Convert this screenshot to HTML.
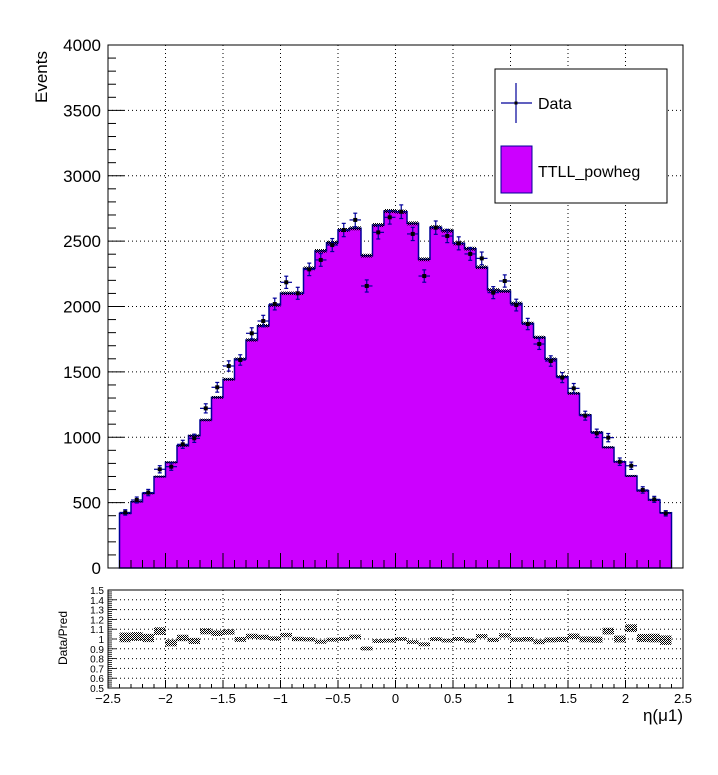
<!DOCTYPE html>
<html><head><meta charset="utf-8">
<style>
body{margin:0;background:#fff;}
svg{display:block;font-family:"Liberation Sans",Arial,sans-serif;}
</style></head>
<body>
<svg id="chart" width="718" height="775" viewBox="0 0 718 775" xmlns="http://www.w3.org/2000/svg">
<defs>
<pattern id="hatch" width="2" height="2" patternUnits="userSpaceOnUse">
<rect x="0" y="0" width="1" height="1" fill="#000"/><rect x="1" y="1" width="1" height="1" fill="#000"/>
</pattern>
</defs>
<rect width="718" height="775" fill="#fff"/>
<g id="main"></g>
<g id="ratio"></g>
</svg>
<script>
const binLow = -2.4, binWidth = 0.1;
const mcValues = [418,507,571,699,808,936,1012,1132,1305,1443,1598,1744,1853,2011,2101,2101,2292,2425,2488,2585,2598,2389,2623,2730,
 2725,2636,2361,2606,2580,2483,2442,2300,2126,2118,2024,1871,1764,1598,1463,1336,1170,1038,923,813,704,591,520,423];
const dataValues = [425,520,577,755,775,946,992,1221,1382,1545,1591,1795,1889,2019,2185,2101,2284,2356,2470,2585,2662,2157,2567,2682,
 2725,2555,2233,2603,2539,2483,2402,2368,2106,2195,2011,1866,1713,1583,1456,1374,1165,1030,997,813,782,597,525,418];
const yTicks = [0,500,1000,1500,2000,2500,3000,3500,4000];
const xTicks = [-2.5,-2,-1.5,-1,-0.5,0,0.5,1,1.5,2,2.5];
const rTicks = [0.5,0.6,0.7,0.8,0.9,1,1.1,1.2,1.3,1.4,1.5];

const NS="http://www.w3.org/2000/svg";
const L=108,R=683,T=45,B=568, RT=590, RB=688;
const X=v=>L+(v+2.5)/5*(R-L);
const Y=v=>B-v/4000*(B-T);
const RY=v=>RB-(v-0.5)/1.0*(RB-RT);
function mk(tag,attrs,parent){const e=document.createElementNS(NS,tag);for(const k in attrs)e.setAttribute(k,attrs[k]);parent.appendChild(e);return e;}
const main=document.getElementById('main'), ratio=document.getElementById('ratio');

let e;
for(const t of xTicks){ if(t>-2.5&&t<2.5){
 e=mk('line',{x1:X(t),x2:X(t),y1:T,y2:B,stroke:'#000','stroke-dasharray':'1,3','stroke-width':1},main);
 
 e=mk('line',{x1:X(t),x2:X(t),y1:RT,y2:RB,stroke:'#000','stroke-dasharray':'1,3','stroke-width':1},ratio);
 }}
for(const t of yTicks){ if(t>0&&t<4000){
 e=mk('line',{x1:L,x2:R,y1:Y(t),y2:Y(t),stroke:'#000','stroke-dasharray':'1,3','stroke-width':1},main);
 }}
for(const t of rTicks){ if(t>0.5&&t<1.5){
 e=mk('line',{x1:L,x2:R,y1:RY(t),y2:RY(t),stroke:'#000','stroke-dasharray':'1,3','stroke-width':1},ratio);
 }}

let d='M'+X(binLow)+','+B;
mcValues.forEach((v,i)=>{const x0=X(binLow+i*binWidth),x1=X(binLow+(i+1)*binWidth);d+=' L'+x0+','+Y(v)+' L'+x1+','+Y(v);});
d+=' L'+X(binLow+mcValues.length*binWidth)+','+B+' Z';
e=mk('path',{d:d,fill:'#cc00ff',stroke:'#000099','stroke-width':1.5},main);

mcValues.forEach((v,i)=>{const x0=X(binLow+i*binWidth),x1=X(binLow+(i+1)*binWidth);const s=Math.sqrt(v)*0.3;
 const b=mk('rect',{x:x0,y:Y(v+s),width:x1-x0,height:Y(v-s)-Y(v+s),fill:'url(#hatch)'},main);
 });
dataValues.forEach((v,i)=>{const xc=X(binLow+(i+0.5)*binWidth),x0=X(binLow+i*binWidth),x1=X(binLow+(i+1)*binWidth);const s=Math.sqrt(v);
 const g=mk('g',{},main);
 
 mk('line',{x1:x0,x2:x1,y1:Y(v),y2:Y(v),stroke:'#000099','stroke-width':1.2},g);
 mk('line',{x1:xc,x2:xc,y1:Y(v+s),y2:Y(v-s),stroke:'#000099','stroke-width':1.2},g);
 mk('line',{x1:xc-2,x2:xc+2,y1:Y(v+s),y2:Y(v+s),stroke:'#000099','stroke-width':1.2},g);
 mk('line',{x1:xc-2,x2:xc+2,y1:Y(v-s),y2:Y(v-s),stroke:'#000099','stroke-width':1.2},g);
 mk('rect',{x:xc-2,y:Y(v)-2,width:4,height:4,fill:'#000'},g);});

dataValues.forEach((v,i)=>{const m=mcValues[i];const r=v/m;const er=Math.sqrt(v)/m;
 const x0=X(binLow+i*binWidth),x1=X(binLow+(i+1)*binWidth);
 const b=mk('rect',{x:x0,y:RY(r+er),width:x1-x0,height:RY(r-er)-RY(r+er),fill:'url(#hatch)'},ratio);
 });

e=mk('rect',{x:L,y:T,width:R-L,height:B-T,fill:'none',stroke:'#000','stroke-width':1},main);

e=mk('rect',{x:L,y:RT,width:R-L,height:RB-RT,fill:'none',stroke:'#000','stroke-width':1},ratio);


for(let v=0;v<=4000;v+=100){const maj=v%500===0;mk('line',{x1:L,x2:L+(maj?16:8),y1:Y(v),y2:Y(v),stroke:'#000','stroke-width':1},main);}
yTicks.forEach(t=>{const tx=mk('text',{x:101,y:Y(t)+6,'text-anchor':'end','font-size':17},main);tx.textContent=t;
 });
for(let k=-25;k<=25;k++){const v=k/10;const maj=k%5===0;
 mk('line',{x1:X(v),x2:X(v),y1:B,y2:B-(maj?15:8),stroke:'#000','stroke-width':1},main);
 mk('line',{x1:X(v),x2:X(v),y1:RB,y2:RB-(maj?8:4),stroke:'#000','stroke-width':1},ratio);}
xTicks.forEach(t=>{const tx=mk('text',{x:X(t),y:703,'text-anchor':'middle','font-size':13},ratio);tx.textContent=String(t).replace('-','\u2212');
 });
for(let k=50;k<=150;k+=2){const v=k/100;const maj=k%10===0;mk('line',{x1:L,x2:L+(maj?8:4),y1:RY(v),y2:RY(v),stroke:'#000','stroke-width':0.8},ratio);}
rTicks.forEach(t=>{const tx=mk('text',{x:104,y:RY(t)+4,'text-anchor':'end','font-size':10},ratio);tx.textContent=t;
 });

const s=document.getElementById('chart');
function T2(x,y,txt,attrs,name){const t=document.createElementNS(NS,'text');t.setAttribute('x',x);t.setAttribute('y',y);for(const k in attrs)t.setAttribute(k,attrs[k]);t.textContent=txt;
 s.appendChild(t);return t;}
T2(0,0,'Events',{transform:'translate(47,103) rotate(-90)','font-size':17},'y-axis-title');
T2(0,0,'Data/Pred',{transform:'translate(67,665) rotate(-90)','font-size':12},'ratio-y-axis-title');
T2(683,721,'\u03b7(\u03bc1)',{'text-anchor':'end','font-size':17},'x-axis-title');
const lg=document.createElementNS(NS,'g');s.appendChild(lg);
mk('rect',{x:495,y:69,width:172,height:134,fill:'#fff',stroke:'#000','stroke-width':1},lg);
const le1=mk('g',{},lg);
mk('line',{x1:501,x2:532,y1:103,y2:103,stroke:'#000099','stroke-width':1.2},le1);
mk('line',{x1:516,x2:516,y1:83,y2:123,stroke:'#000099','stroke-width':1.2},le1);
mk('rect',{x:514.5,y:101.5,width:3,height:3,fill:'#000'},le1);
let t=mk('text',{x:538,y:109,'font-size':16},le1);t.textContent='Data';
const le2=mk('g',{},lg);
mk('rect',{x:501,y:146,width:31,height:47,fill:'#cc00ff',stroke:'#000099','stroke-width':1},le2);
t=mk('text',{x:538,y:177,'font-size':16},le2);t.textContent='TTLL_powheg';
</script>
</body></html>
